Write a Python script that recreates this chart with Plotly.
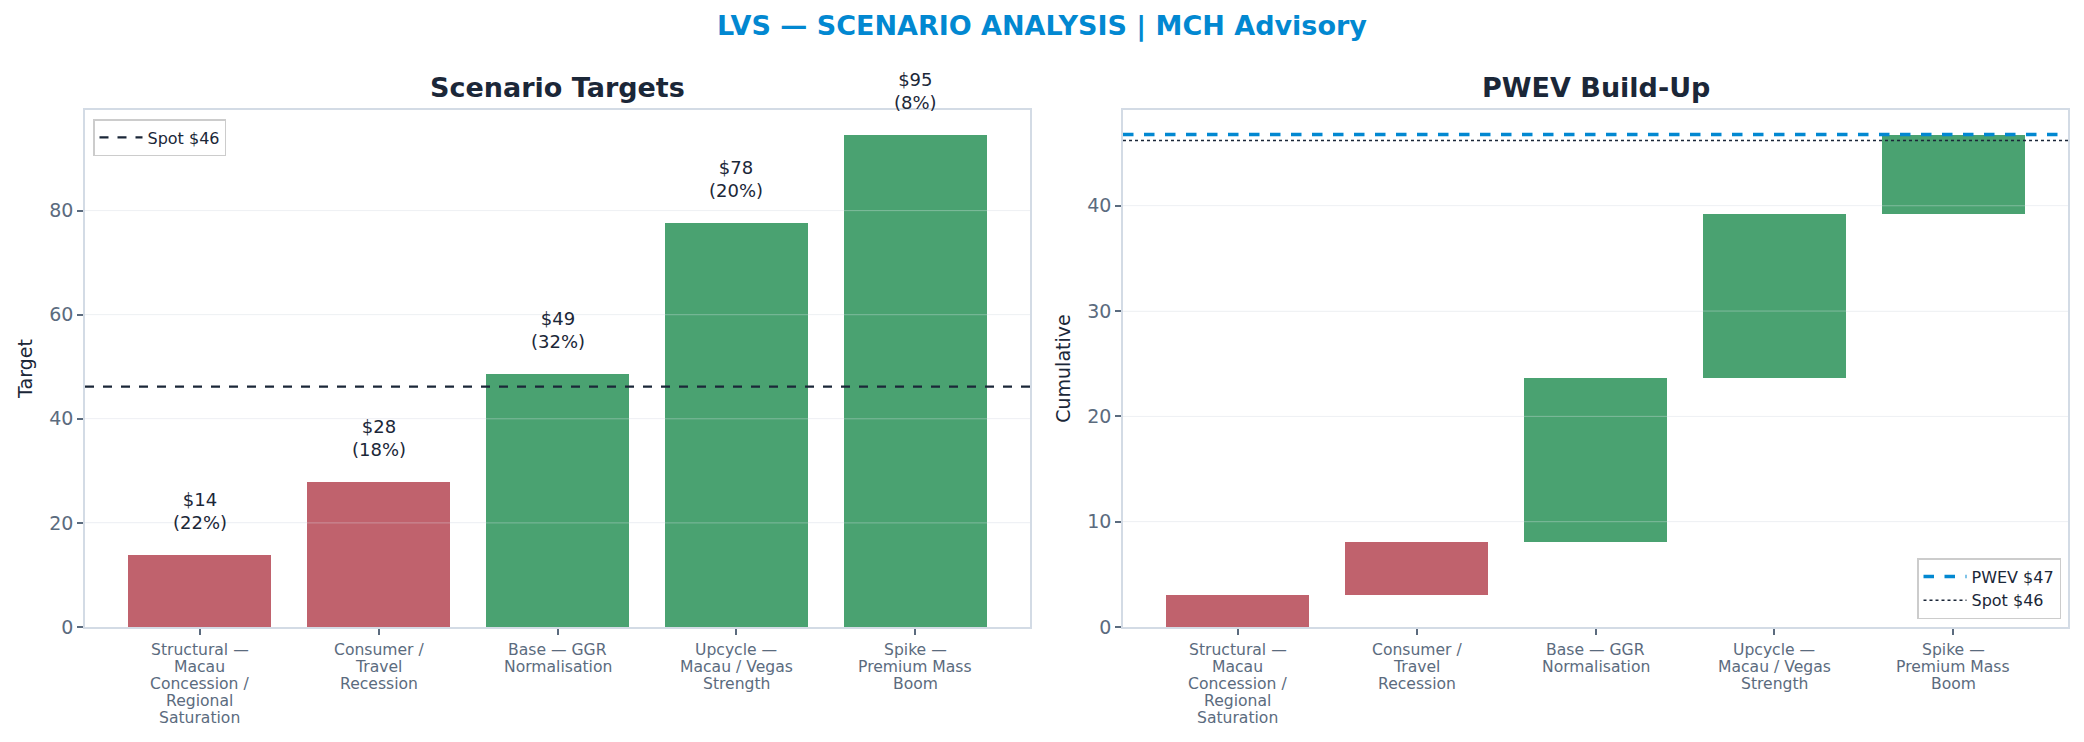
import plotly.graph_objects as go

# ---- data ----
scenarios = [
    "Structural —<br>Macau<br>Concession /<br>Regional<br>Saturation",
    "Consumer /<br>Travel<br>Recession",
    "Base — GGR<br>Normalisation",
    "Upcycle —<br>Macau / Vegas<br>Strength",
    "Spike —<br>Premium Mass<br>Boom",
]
targets = [13.9, 27.8, 48.7, 77.7, 94.6]
probs = [0.22, 0.18, 0.32, 0.20, 0.08]
spot = 46.2
left_ticks = [0, 20, 40, 60, 80]
right_ticks = [0, 10, 20, 30, 40]

RED = "#c0626d"
GREEN = "#4aa271"
NAVY = "#1b2738"
BLUE = "#0288d1"
TICK = "#5b6b7e"
SPINE = "#d3dbe5"
FONT = "DejaVu Sans"

W, H = 2084, 742
n = len(targets)
idx = list(range(n))
xr = [-0.4 - 0.05 * (n - 1 + 0.8), n - 1 + 0.4 + 0.05 * (n - 1 + 0.8)]

contrib = [t * p for t, p in zip(targets, probs)]
cum_before = []
acc = 0.0
for c in contrib:
    cum_before.append(acc)
    acc += c
pwev = acc
colors = [RED if t < spot else GREEN for t in targets]

fig = go.Figure()

# Left: scenario targets
fig.add_trace(go.Bar(x=idx, y=targets, width=0.8, marker=dict(color=colors, line=dict(width=0)),
                     showlegend=False, xaxis="x", yaxis="y"))
fig.add_trace(go.Scatter(x=xr, y=[spot, spot], mode="lines", name=f"Spot ${spot:.0f}",
                         line=dict(color=NAVY, width=2.2, dash="dash"),
                         xaxis="x", yaxis="y", legend="legend"))

# Right: PWEV build-up
fig.add_trace(go.Bar(x=idx, y=contrib, base=cum_before, width=0.8,
                     marker=dict(color=colors, line=dict(width=0)),
                     showlegend=False, xaxis="x2", yaxis="y2"))
fig.add_trace(go.Scatter(x=xr, y=[pwev, pwev], mode="lines", name=f"PWEV ${pwev:.0f}",
                         line=dict(color=BLUE, width=3.5, dash="dash"),
                         xaxis="x2", yaxis="y2", legend="legend2"))
fig.add_trace(go.Scatter(x=xr, y=[spot, spot], mode="lines", name=f"Spot ${spot:.0f}",
                         line=dict(color=NAVY, width=1.5, dash="dot"),
                         xaxis="x2", yaxis="y2", legend="legend2"))

annotations = []
for i, (t, p) in enumerate(zip(targets, probs)):
    annotations.append(dict(x=i, y=t, xref="x", yref="y", text=f"${t:.0f}<br>({p*100:.0f}%)",
                            showarrow=False, yanchor="bottom", yshift=20,
                            font=dict(family=FONT, size=18, color=NAVY)))

# category labels (one text line each, matplotlib-like spacing)
for xa in ("x", "x2"):
    for i, lab in enumerate(scenarios):
        for k, line in enumerate(lab.split("<br>")):
            annotations.append(dict(x=i, y=0, xref=xa, yref=f"{'y' if xa == 'x' else 'y2'} domain",
                                    text=line, showarrow=False, yanchor="middle", xanchor="center",
                                    yshift=-23 - 17.1 * k,
                                    font=dict(family=FONT, size=15.6, color=TICK)))

x1d = [85 / W, 1030 / W]
x2d = [1123 / W, 2068 / W]
yd = [1 - 627 / H, 1 - 110 / H]

annotations += [
    dict(x=(x1d[0] + x1d[1]) / 2, y=1 - 88 / H, xref="paper", yref="paper", text="<b>Scenario Targets</b>",
         showarrow=False, font=dict(family=FONT, size=27, color=NAVY), xanchor="center", yanchor="middle"),
    dict(x=(x2d[0] + x2d[1]) / 2, y=1 - 88 / H, xref="paper", yref="paper", text="<b>PWEV Build-Up</b>",
         showarrow=False, font=dict(family=FONT, size=27, color=NAVY), xanchor="center", yanchor="middle"),
]

shapes = []
for v in left_ticks[1:]:
    shapes.append(dict(type="line", xref="x domain", yref="y", x0=0, x1=1, y0=v, y1=v,
                       line=dict(color="rgba(230,234,240,0.35)", width=1), layer="above"))
for v in right_ticks[1:]:
    shapes.append(dict(type="line", xref="x2 domain", yref="y2", x0=0, x1=1, y0=v, y1=v,
                       line=dict(color="rgba(230,234,240,0.35)", width=1), layer="above"))

axis_common = dict(showline=True, mirror=True, linecolor=SPINE, linewidth=1.5,
                   ticks="outside", ticklen=6, tickwidth=1.5, tickcolor=TICK,
                   zeroline=False, automargin=False)

fig.update_layout(
    width=W, height=H,
    margin=dict(l=0, r=0, t=0, b=0, autoexpand=False),
    paper_bgcolor="white", plot_bgcolor="white",
    font=dict(family=FONT, color=NAVY),
    bargap=0,
    title=dict(text="<b>LVS — SCENARIO ANALYSIS | MCH Advisory</b>", x=1042 / W, xanchor="center",
               y=1 - 26 / H, yanchor="middle", font=dict(family=FONT, size=27, color=BLUE)),
    xaxis=dict(domain=x1d, range=xr, tickvals=idx, showticklabels=False, showgrid=False,
               anchor="y", **axis_common),
    yaxis=dict(domain=yd, range=[0, max(targets) * 1.05], tickvals=left_ticks,
               showgrid=True, gridcolor="#f3f4f6", gridwidth=1,
               tickfont=dict(family=FONT, size=19, color=TICK), anchor="x",
               title=dict(text="Target", font=dict(family=FONT, size=19, color=NAVY), standoff=12),
               **axis_common),
    xaxis2=dict(domain=x2d, range=xr, tickvals=idx, showticklabels=False, showgrid=False,
                anchor="y2", **axis_common),
    yaxis2=dict(domain=yd, range=[0, pwev * 1.05], tickvals=right_ticks,
                showgrid=True, gridcolor="#f3f4f6", gridwidth=1,
                tickfont=dict(family=FONT, size=19, color=TICK), anchor="x2",
                title=dict(text="Cumulative", font=dict(family=FONT, size=19, color=NAVY), standoff=12),
                **axis_common),
    legend=dict(x=93 / W, y=1 - 119 / H, xanchor="left", yanchor="top",
                bgcolor="white", bordercolor="#cccccc", borderwidth=1.5, itemwidth=43,
                font=dict(family=FONT, size=16, color=NAVY)),
    legend2=dict(x=2061 / W, y=1 - 619 / H, xanchor="right", yanchor="bottom",
                 bgcolor="white", bordercolor="#cccccc", borderwidth=1.5, itemwidth=43,
                 font=dict(family=FONT, size=16, color=NAVY), tracegroupgap=0),
    annotations=annotations,
    shapes=shapes,
)

fig.write_html("out.html")
